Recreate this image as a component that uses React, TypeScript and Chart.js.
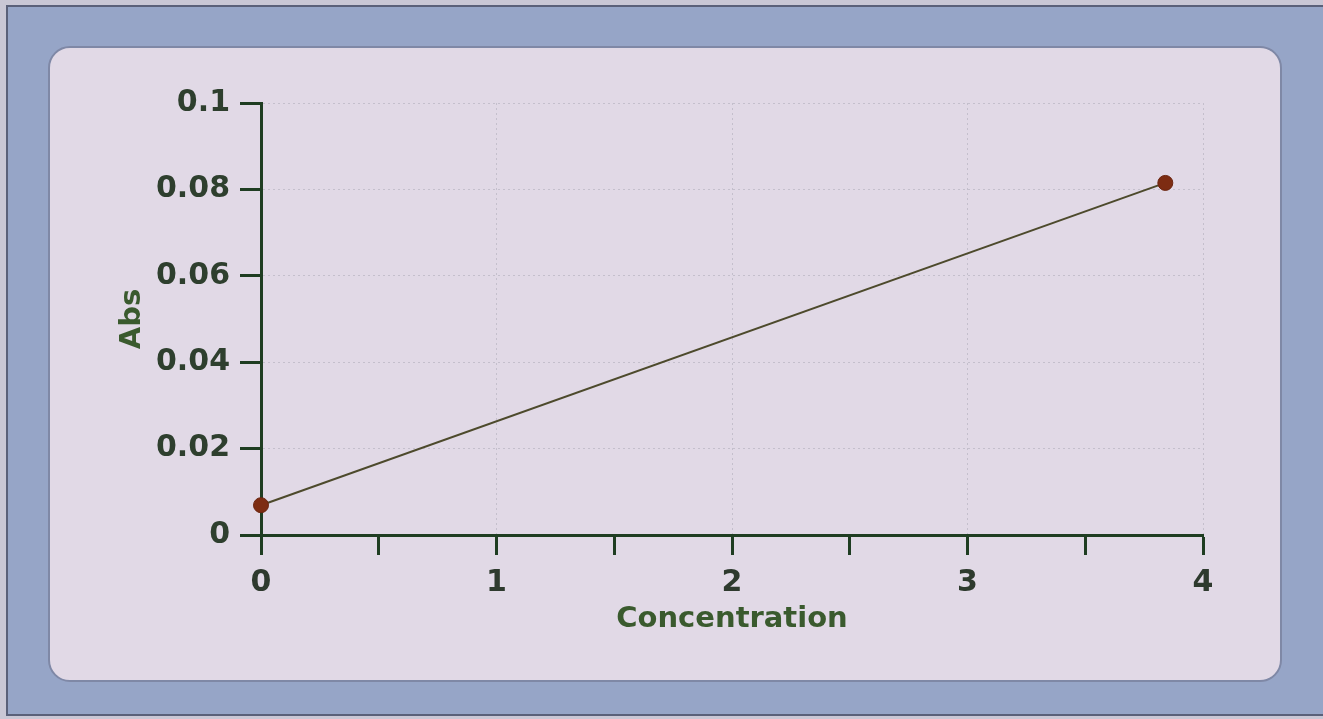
import React, { useEffect, useRef } from "react";
import { Chart, registerables } from "chart.js";

Chart.register(...registerables);

const concentration: number[] = [0, 3.84];
const absorbance: number[] = [0.0069, 0.0815];
const xTickValues: number[] = [0, 1, 2, 3, 4];
const yTickLabels: string[] = ["0", "0.02", "0.04", "0.06", "0.08", "0.1"];
const xTitle = "Concentration";
const yTitle = "Abs";

const W = 1323;
const H = 719;

export default function App() {
  const ref = useRef<HTMLCanvasElement | null>(null);

  useEffect(() => {
    const canvas = ref.current;
    if (!canvas) return;
    const data = concentration.map((x, i) => ({ x, y: absorbance[i] }));
    const tickFont = { family: "'DejaVu Sans', Verdana, sans-serif", size: 30, weight: "bold" as const };
    const titleFont = { family: "'DejaVu Sans', Verdana, sans-serif", size: 29, weight: "bold" as const };
    const chart = new Chart(canvas, {
      type: "scatter",
      data: {
        datasets: [
          {
            data,
            showLine: true,
            borderColor: "#4d4a2c",
            borderWidth: 2,
            pointRadius: 7.5,
            pointBackgroundColor: "#7d2c12",
            pointBorderColor: "#6a2510",
            pointBorderWidth: 1,
            clip: false as any,
          },
        ],
      },
      options: {
        animation: false,
        responsive: false,
        devicePixelRatio: 1,
        layout: { padding: { left: 0, right: 120, top: 103, bottom: 0 } },
        plugins: { legend: { display: false }, tooltip: { enabled: false } },
        scales: {
          x: {
            type: "linear",
            min: 0,
            max: 4,
            afterFit: (s: any) => {
              s.height = H - 535;
            },
            ticks: {
              stepSize: 0.5,
              autoSkip: false,
              maxRotation: 0,
              padding: 10,
              color: "#2e3a2e",
              font: tickFont,
              callback: (v: any) => {
                const n = Number(v);
                return xTickValues.includes(n) ? String(n) : "";
              },
            },
            grid: {
              color: (ctx: any) => {
                const v = ctx.tick ? ctx.tick.value : 0;
                return Number.isInteger(v) && v !== 0 ? "#c4bfcc" : "rgba(0,0,0,0)";
              },
              lineWidth: 1,
              tickColor: "#1f3d22",
              tickWidth: 3,
              tickLength: 20,
            },
            border: { display: true, color: "#1f3d22", width: 3, dash: [2, 3] },
            title: {
              display: true,
              text: xTitle,
              color: "#3a5a2e",
              font: titleFont,
              padding: { top: 0, bottom: 82 },
            },
          },
          y: {
            type: "linear",
            min: 0,
            max: 0.1,
            afterFit: (s: any) => {
              s.width = 261;
            },
            ticks: {
              stepSize: 0.02,
              padding: 10,
              color: "#2e3f2e",
              font: tickFont,
              callback: (_v: any, i: number) => yTickLabels[i] ?? "",
            },
            grid: {
              color: (ctx: any) => {
                const v = ctx.tick ? ctx.tick.value : 0;
                return v !== 0 ? "#c4bfcc" : "rgba(0,0,0,0)";
              },
              lineWidth: 1,
              tickColor: "#1f3d22",
              tickWidth: 3,
              tickLength: 21,
            },
            border: { display: true, color: "#1f3d22", width: 3, dash: [2, 3] },
            title: {
              display: true,
              text: yTitle,
              color: "#3a5a2e",
              font: titleFont,
              padding: { top: 115, bottom: 0 },
            },
          },
        },
      },
    });
    return () => chart.destroy();
  }, []);

  return (
    <div style={{ position: "fixed", left: 0, top: 0, width: W, height: H, background: "#c9c7d5", overflow: "hidden" }}>
      <div
        style={{
          position: "absolute",
          left: 6,
          top: 5,
          width: W - 6,
          height: H - 8,
          boxSizing: "border-box",
          borderLeft: "2px solid #5a6079",
          borderTop: "2px solid #5a6079",
          borderBottom: "2px solid #5a6079",
          background: "#96a5c7",
        }}
      />
      <div
        style={{
          position: "absolute",
          left: 48,
          top: 46,
          width: 1234,
          height: 636,
          boxSizing: "border-box",
          borderRadius: 22,
          border: "2px solid #7f88a6",
          background: "#e1d9e6",
        }}
      />
      <canvas ref={ref} width={W} height={H} style={{ position: "absolute", left: 0, top: 0, width: W, height: H }} />
    </div>
  );
}
